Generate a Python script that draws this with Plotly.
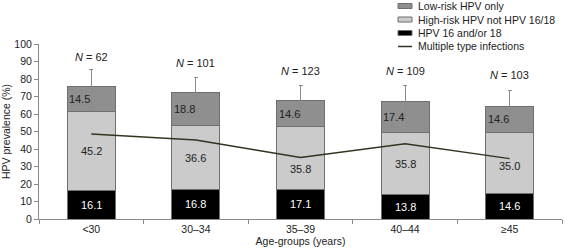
import plotly.graph_objects as go

categories = ["<30", "30–34", "35–39", "40–44", "≥45"]
hpv1618 = [16.1, 16.8, 17.1, 13.8, 14.6]
high_risk = [45.2, 36.6, 35.8, 35.8, 35.0]
low_risk = [14.5, 18.8, 14.6, 17.4, 14.6]
err_plus = [9.9, 8.5, 8.7, 9.2, 9.3]
err_minus = [12.2, 9.5, 8.6, 9.5, 9.7]
multiple = [48.6, 45.1, 35.2, 43.0, 34.5]
n_labels = [62, 101, 123, 109, 103]
legend_names = ["Low-risk HPV only", "High-risk HPV not HPV 16/18",
                "HPV 16 and/or 18", "Multiple type infections"]

FONT = "Arial, Liberation Sans, sans-serif"
C_DARK = "#8f8f8f"
C_LIGHT = "#cbcbcb"
C_BLACK = "#000000"
OUTLINE = "#6f6f6f"
LINE_C = "#33331f"

W, H = 565, 251
ML, MR, MT, MB = 39, 3, 44, 32
PW, PH = W - ML - MR, H - MT - MB

fig = go.Figure()
fig.add_trace(go.Bar(x=categories, y=hpv1618, name=legend_names[2],
                     marker=dict(color=C_BLACK, line=dict(color=OUTLINE, width=1))))
fig.add_trace(go.Bar(x=categories, y=high_risk, name=legend_names[1],
                     marker=dict(color=C_LIGHT, line=dict(color=OUTLINE, width=1))))
fig.add_trace(go.Bar(x=categories, y=low_risk, name=legend_names[0],
                     marker=dict(color=C_DARK, line=dict(color=OUTLINE, width=1)),
                     error_y=dict(type="data", symmetric=False, array=err_plus,
                                  arrayminus=err_minus, color="#8a8a8a",
                                  thickness=1, width=2)))
fig.add_trace(go.Scatter(x=categories, y=multiple, mode="lines",
                         name=legend_names[3],
                         line=dict(color=LINE_C, width=1.5)))

annotations = []
for i, c in enumerate(categories):
    b = hpv1618[i]
    h = high_risk[i]
    l = low_risk[i]
    tot = b + h + l
    annotations.append(dict(x=c, y=b / 2, text=f"{b:.1f}", showarrow=False,
                            font=dict(color="white", size=11, family=FONT)))
    hy = b + h / 2
    if i == 2:
        hy -= 6.5
    elif i == 4:
        hy -= 2
    annotations.append(dict(x=c, y=hy, text=f"{h:.1f}", showarrow=False,
                            font=dict(color="#222", size=11, family=FONT)))
    annotations.append(dict(x=c, y=b + h + l / 2, text=f"{l:.1f}", showarrow=False,
                            xanchor="left", xshift=-24,
                            font=dict(color="#222", size=11, family=FONT)))
    annotations.append(dict(x=c, y=tot + err_plus[i], text=f"<i>N</i> = {n_labels[i]}",
                            showarrow=False, yshift=15 if i else 12,
                            font=dict(color="#222", size=11, family=FONT)))

# manual legend (compact rows like the reference)
def px_x(p):
    return (p - ML) / PW

def px_y(p):
    return (H - MB - p) / PH

shapes = []
row_y = [6, 19.5, 33, 46.5]
sw_x0, sw_x1, txt_x = 398, 412, 416
fills = [C_DARK, C_LIGHT, C_BLACK]
for k, name in enumerate(legend_names):
    yc = row_y[k]
    if k < 3:
        shapes.append(dict(type="rect", xref="paper", yref="paper",
                           x0=px_x(sw_x0), x1=px_x(sw_x1),
                           y0=px_y(yc + 2.5), y1=px_y(yc - 2.5),
                           fillcolor=fills[k], line=dict(color=OUTLINE, width=1)))
    else:
        shapes.append(dict(type="line", xref="paper", yref="paper",
                           x0=px_x(sw_x0), x1=px_x(sw_x1),
                           y0=px_y(yc), y1=px_y(yc),
                           line=dict(color=LINE_C, width=1.5)))
    annotations.append(dict(xref="paper", yref="paper", x=px_x(txt_x), y=px_y(yc),
                            xanchor="left", yanchor="middle", text=name,
                            showarrow=False,
                            font=dict(color="#222", size=10.5, family=FONT)))

fig.update_layout(
    width=W, height=H,
    margin=dict(l=ML, r=MR, t=MT, b=MB),
    barmode="stack", bargap=0.54,
    plot_bgcolor="white", paper_bgcolor="white",
    font=dict(family=FONT, size=10.5, color="#222"),
    showlegend=False,
    annotations=annotations,
    shapes=shapes,
    xaxis=dict(title=dict(text="Age-groups (years)", standoff=2, font=dict(size=10.5)),
               automargin=False,
               showline=True, linecolor="#8a8a8a", ticks="outside",
               tickson="boundaries", ticklen=4, tickcolor="#8a8a8a",
               showgrid=False),
    yaxis=dict(title=dict(text="HPV prevalence (%)", standoff=4, font=dict(size=10.5)),
               automargin=False,
               range=[0, 100], dtick=10, showline=True, linecolor="#8a8a8a",
               ticks="outside", ticklen=4, tickcolor="#8a8a8a",
               showgrid=False, zeroline=False),
)

fig.write_html("out.html", config={"displayModeBar": False},
               post_script="document.body.style.margin='0';")
